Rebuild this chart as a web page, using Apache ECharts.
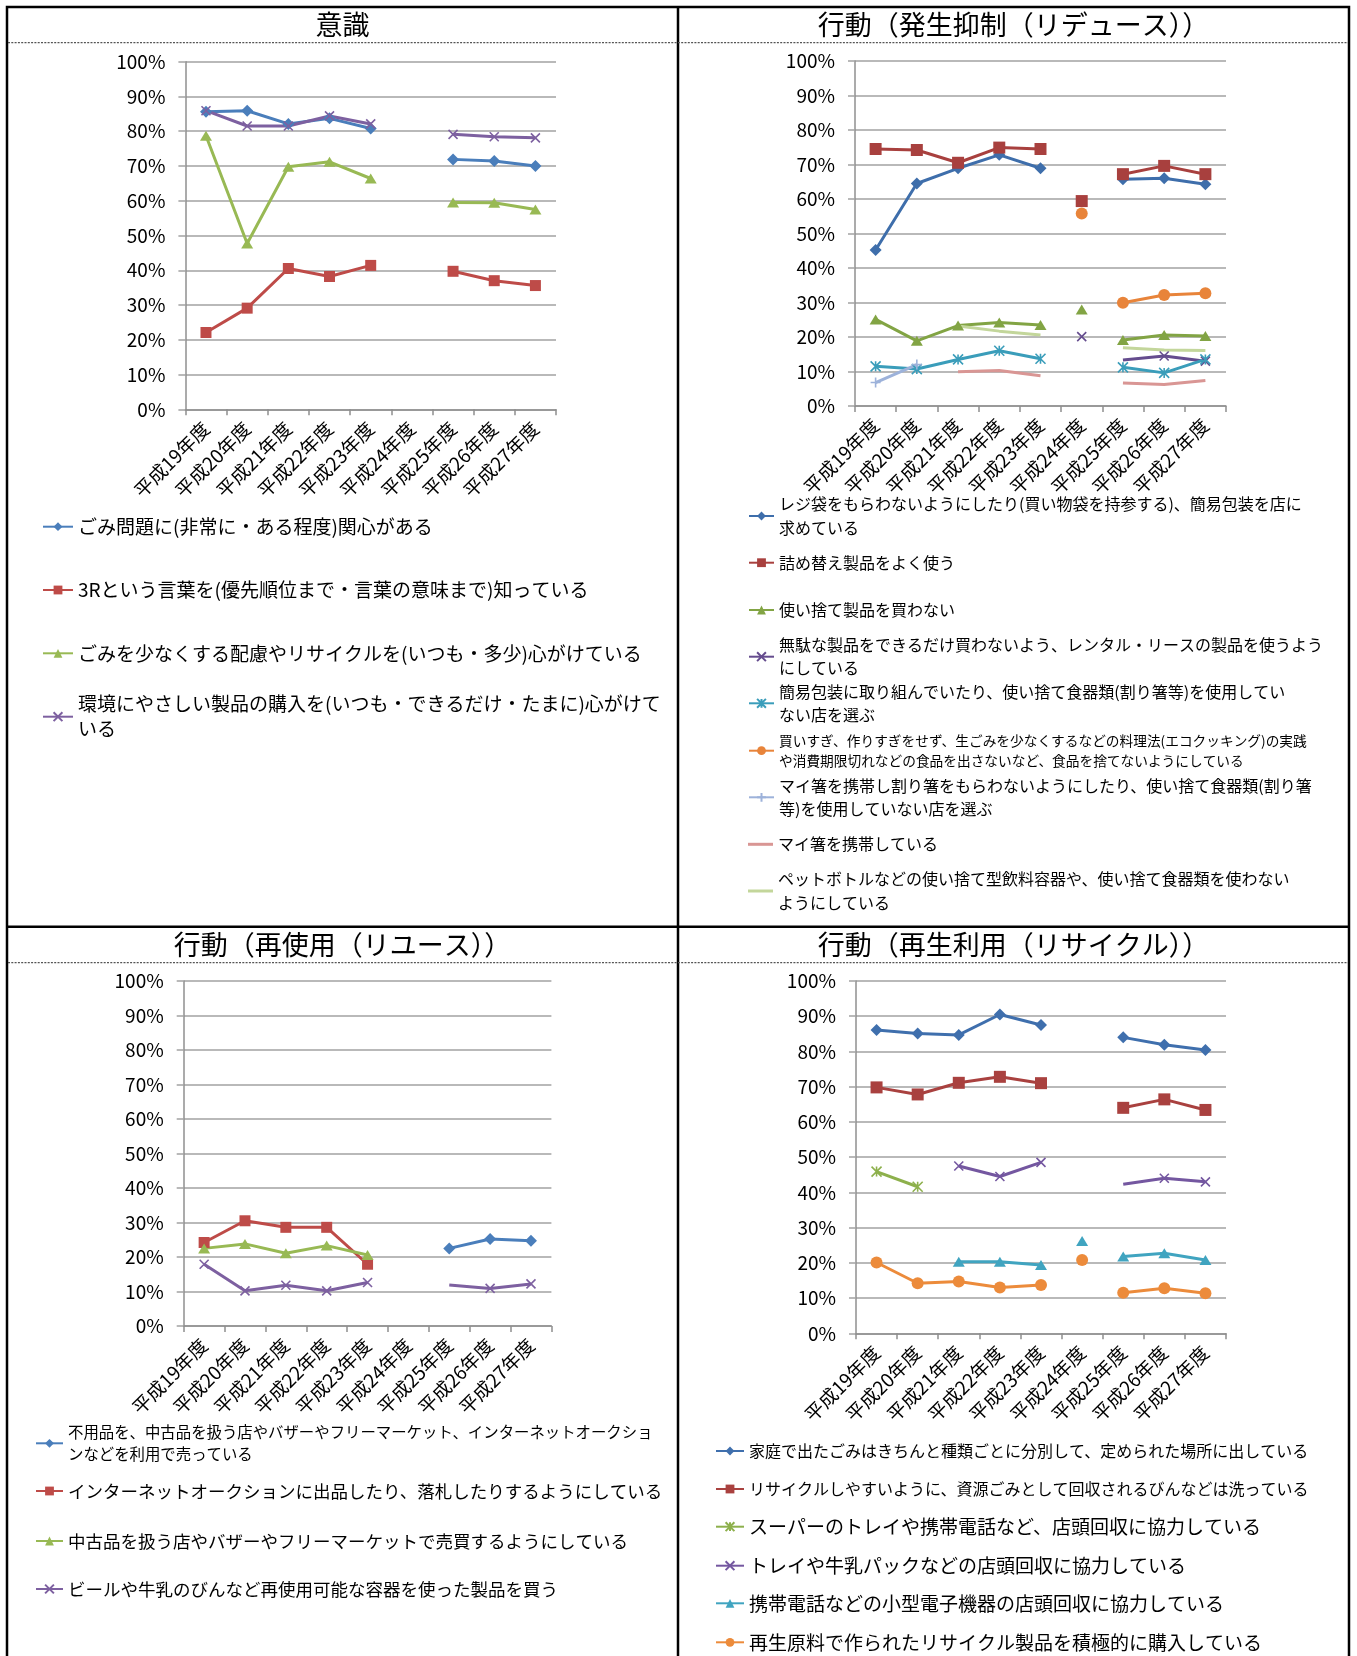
<!DOCTYPE html>
<html>
<head>
<meta charset="utf-8">
<script src="https://cdn.jsdelivr.net/npm/echarts@6/dist/echarts.min.js"></script>
<style>
  html, body { margin: 0; padding: 0; background: #fff; }
  #chart { width: 1357px; height: 1656px; }
</style>
</head>
<body>
<div id="chart"></div>
<script>
// ---- Survey years ----
const years = ['平成19年度', '平成20年度', '平成21年度', '平成22年度', '平成23年度',
               '平成24年度', '平成25年度', '平成26年度', '平成27年度'];
// 平成24年度 was surveyed separately, so its points stand alone (never joined by lines)
const standaloneYear = 5;
// y axis: 0% - 100%, step 10
const yMin = 0, yMax = 100, yStep = 10;

// ---- 意識 ----
const awareLabels = [
  'ごみ問題に(非常に・ある程度)関心がある',
  '3Rという言葉を(優先順位まで・言葉の意味まで)知っている',
  'ごみを少なくする配慮やリサイクルを(いつも・多少)心がけている',
  '環境にやさしい製品の購入を(いつも・できるだけ・たまに)心がけて\nいる'
];
const awareConcern = [85.6, 85.9, 82.1, 83.7, 80.8, null, 71.9, 71.4, 70.0];
const aware3R      = [22.1, 29.1, 40.5, 38.2, 41.4, null, 39.7, 37.0, 35.6];
const awareReduce  = [78.7, 47.7, 69.8, 71.2, 66.4, null, 59.5, 59.4, 57.5];
const awareGreen   = [85.9, 81.5, 81.5, 84.4, 82.1, null, 79.1, 78.4, 78.1];

// ---- 行動（発生抑制（リデュース）） ----
const reduceLabels = [
  'レジ袋をもらわないようにしたり(買い物袋を持参する)、簡易包装を店に\n求めている',
  '詰め替え製品をよく使う',
  '使い捨て製品を買わない',
  '無駄な製品をできるだけ買わないよう、レンタル・リースの製品を使うよう\nにしている',
  '簡易包装に取り組んでいたり、使い捨て食器類(割り箸等)を使用してい\nない店を選ぶ',
  '買いすぎ、作りすぎをせず、生ごみを少なくするなどの料理法(エコクッキング)の実践\nや消費期限切れなどの食品を出さないなど、食品を捨てないようにしている',
  'マイ箸を携帯し割り箸をもらわないようにしたり、使い捨て食器類(割り箸\n等)を使用していない店を選ぶ',
  'マイ箸を携帯している',
  'ペットボトルなどの使い捨て型飲料容器や、使い捨て食器類を使わない\nようにしている'
];
const reduceBag       = [45.2, 64.5, 68.9, 72.8, 68.9, null, 65.7, 66.0, 64.3];
const reduceRefill    = [74.5, 74.2, 70.5, 74.9, 74.5, 59.4, 67.2, 69.6, 67.2];
const reduceNoDispose = [25.1, 18.9, 23.3, 24.2, 23.5, 28.0, 19.1, 20.6, 20.3];
const reduceRental    = [null, null, null, null, null, 20.1, 13.3, 14.5, 13.0];
const reduceShopPack  = [11.5, 10.7, 13.5, 16.0, 13.7, null, 11.2, 9.6, 13.5];
const reduceFoodWaste = [null, null, null, null, null, 55.8, 29.9, 32.2, 32.7];
const reduceMyHashiShop = [6.8, 12.0, null, null, null, null, null, null, null];
const reduceMyHashi   = [null, null, 9.9, 10.3, 8.8, null, 6.7, 6.2, 7.4];
const reducePetBottle = [null, null, 23.2, 21.7, 20.6, null, 16.9, 16.2, 16.1];

// ---- 行動（再使用（リユース）） ----
const reuseLabels = [
  '不用品を、中古品を扱う店やバザーやフリーマーケット、インターネットオークショ\nンなどを利用で売っている',
  'インターネットオークションに出品したり、落札したりするようにしている',
  '中古品を扱う店やバザーやフリーマーケットで売買するようにしている',
  'ビールや牛乳のびんなど再使用可能な容器を使った製品を買う'
];
const reuseSell       = [null, null, null, null, null, null, 22.5, 25.2, 24.7];
const reuseAuction    = [24.2, 30.5, 28.6, 28.6, 17.9, null, null, null, null];
const reuseSecondhand = [22.5, 23.8, 21.1, 23.3, 20.6, null, null, null, null];
const reuseBottle     = [17.9, 10.2, 11.8, 10.2, 12.6, null, 11.9, 10.9, 12.2];

// ---- 行動（再生利用（リサイクル）） ----
const recycleLabels = [
  '家庭で出たごみはきちんと種類ごとに分別して、定められた場所に出している',
  'リサイクルしやすいように、資源ごみとして回収されるびんなどは洗っている',
  'スーパーのトレイや携帯電話など、店頭回収に協力している',
  'トレイや牛乳パックなどの店頭回収に協力している',
  '携帯電話などの小型電子機器の店頭回収に協力している',
  '再生原料で作られたリサイクル製品を積極的に購入している'
];
const recycleSort      = [86.1, 85.1, 84.7, 90.5, 87.5, null, 84.0, 81.9, 80.4];
const recycleWash      = [69.8, 67.8, 71.1, 72.8, 71.0, null, 64.0, 66.4, 63.4];
const recycleSuperTray = [45.9, 41.6, null, null, null, null, null, null, null];
const recycleTrayPack  = [null, null, 47.5, 44.5, 48.5, null, 42.3, 44.0, 43.0];
const recyclePhone     = [null, null, 20.3, 20.3, 19.4, 26.2, 21.8, 22.7, 20.8];
const recycleBuy       = [20.1, 14.2, 14.7, 13.0, 13.7, 20.8, 11.5, 12.8, 11.4];

// ---- styling ----
const FONT = '"Noto Sans CJK JP", "Noto Sans", sans-serif';
const GRID_GRAY = '#a2a2a2';
const AXIS_GRAY = '#8f8f8f';
const STROKE_SYMBOLS = {
  x: 'path://M0,0L10,10M10,0L0,10',
  star: 'path://M0,0L10,10M10,0L0,10M5,0L5,10',
  plus: 'path://M5,0L5,10M0,5L10,5'
};

const panels = [
  {
    title: '意識', cx: 342.5, ty: 25,
    grid: { left: 185.4, top: 61.7, width: 370.6, height: 347.6 },
    legendLeft: 42, iconW: 30,
    items: [
      { label: awareLabels[0], data: awareConcern, color: '#4A7EBB', symbol: 'diamond', size: 12, y: 526.7, font: 19, lh: 25 },
      { label: awareLabels[1], data: aware3R, color: '#BE4B48', symbol: 'rect', size: 11, y: 590, font: 19, lh: 25 },
      { label: awareLabels[2], data: awareReduce, color: '#98B954', symbol: 'triangle', size: [12, 10], y: 653.3, font: 19, lh: 25 },
      { label: awareLabels[3], data: awareGreen, color: '#7D60A0', symbol: 'x', size: 9, y: 716.7, font: 19, lh: 25 }
    ]
  },
  {
    title: '行動（発生抑制（リデュース））', cx: 1013.5, ty: 25,
    grid: { left: 855, top: 61, width: 371, height: 345 },
    legendLeft: 748, iconW: 25,
    items: [
      { label: reduceLabels[0], data: reduceBag, color: '#3E6EAB', symbol: 'diamond', size: 12, y: 516, font: 16, lh: 23.4 },
      { label: reduceLabels[1], data: reduceRefill, color: '#A8403E', symbol: 'rect', size: 12, y: 562.7, font: 16, lh: 23.4 },
      { label: reduceLabels[2], data: reduceNoDispose, color: '#82A444', symbol: 'triangle', size: [12, 10], y: 610, font: 16, lh: 23.4 },
      { label: reduceLabels[3], data: reduceRental, color: '#654C8E', symbol: 'x', size: 9, y: 656.7, font: 16, lh: 23.4, plain: [6] },
      { label: reduceLabels[4], data: reduceShopPack, color: '#3A9DBA', symbol: 'star', size: 10, y: 703.3, font: 16, lh: 23.4 },
      { label: reduceLabels[5], data: reduceFoodWaste, color: '#E8843A', symbol: 'circle', size: 12, y: 750.7, font: 13.7, lh: 19.3 },
      { label: reduceLabels[6], data: reduceMyHashiShop, color: '#9DB2DA', symbol: 'plus', size: 10, y: 797.3, font: 16, lh: 23.4 },
      { label: reduceLabels[7], data: reduceMyHashi, color: '#D99694', symbol: 'none', size: 0, y: 844.3, font: 16, lh: 23.4 },
      { label: reduceLabels[8], data: reducePetBottle, color: '#C3D69B', symbol: 'none', size: 0, y: 891, font: 16, lh: 23.4 }
    ]
  },
  {
    title: '行動（再使用（リユース））', cx: 342.5, ty: 945,
    grid: { left: 183.7, top: 981, width: 367.7, height: 345 },
    legendLeft: 35, iconW: 27,
    items: [
      { label: reuseLabels[0], data: reuseSell, color: '#4A7EBB', symbol: 'diamond', size: 12, y: 1443.3, font: 15.4, lh: 21.7 },
      { label: reuseLabels[1], data: reuseAuction, color: '#BE4B48', symbol: 'rect', size: 11, y: 1491, font: 17.5, lh: 24 },
      { label: reuseLabels[2], data: reuseSecondhand, color: '#98B954', symbol: 'triangle', size: [12, 10], y: 1541, font: 17.5, lh: 24 },
      { label: reuseLabels[3], data: reuseBottle, color: '#7D60A0', symbol: 'x', size: 9, y: 1589, font: 17.5, lh: 24, plain: [6] }
    ]
  },
  {
    title: '行動（再生利用（リサイクル））', cx: 1013.5, ty: 945,
    grid: { left: 856, top: 981, width: 370, height: 352.3 },
    legendLeft: 715, iconW: 28,
    items: [
      { label: recycleLabels[0], data: recycleSort, color: '#3F6FAD', symbol: 'diamond', size: 12, y: 1451, font: 16, lh: 24 },
      { label: recycleLabels[1], data: recycleWash, color: '#A9413F', symbol: 'rect', size: 12, y: 1489, font: 16, lh: 24 },
      { label: recycleLabels[2], data: recycleSuperTray, color: '#8DB04C', symbol: 'star', size: 10, y: 1526.7, font: 19, lh: 24 },
      { label: recycleLabels[3], data: recycleTrayPack, color: '#7457A0', symbol: 'x', size: 9, y: 1565.7, font: 19, lh: 24, plain: [6] },
      { label: recycleLabels[4], data: recyclePhone, color: '#40A4C0', symbol: 'triangle', size: [12, 10], y: 1603.3, font: 19, lh: 24 },
      { label: recycleLabels[5], data: recycleBuy, color: '#EC8B3B', symbol: 'circle', size: 12, y: 1642.3, font: 19, lh: 24 }
    ]
  }
];

function seriesName(label) { return label.replace('\n', ''); }

// One line series per run of values; the standalone year is drawn as its own marker only.
function buildSeries(item, idx) {
  const strokeSym = STROKE_SYMBOLS[item.symbol];
  const plain = item.plain || [];
  const name = seriesName(item.label);
  const base = {
    type: 'line',
    name: name,
    xAxisIndex: idx, yAxisIndex: idx,
    symbol: strokeSym || item.symbol,
    symbolSize: item.size,
    showSymbol: item.symbol !== 'none',
    showAllSymbol: true,
    connectNulls: false,
    clip: false,
    color: item.color,
    lineStyle: { width: 3, color: item.color },
    itemStyle: strokeSym
      ? { color: item.color, borderColor: item.color, borderWidth: 1.6 }
      : { color: item.color, borderWidth: 0 },
    emphasis: { disabled: true },
    animation: false
  };
  const mainData = item.data.map((v, i) => {
    if (i === standaloneYear) return null;
    return (plain.includes(i) && v != null) ? { value: v, symbol: 'none' } : v;
  });
  const out = [Object.assign({}, base, { data: mainData })];
  if (item.data[standaloneYear] != null) {
    const single = item.data.map((v, i) => (i === standaloneYear ? v : null));
    out.push(Object.assign({}, base, { data: single }));
  }
  return out;
}

function buildLegend(item, panel) {
  const lines = item.label.split('\n').length;
  const pad = (lines - 1) * item.lh;
  const top = item.y - (pad + lines * item.lh) / 2;
  const name = seriesName(item.label);
  const lineOnly = item.symbol === 'none';
  return {
    data: [lineOnly ? { name: name, icon: 'rect' } : name],
    left: panel.legendLeft, top: top,
    orient: 'horizontal', padding: 0, itemGap: 0,
    itemWidth: panel.iconW, itemHeight: lineOnly ? 3 : 11,
    selectedMode: false,
    formatter: () => item.label,
    textStyle: { fontSize: item.font, lineHeight: item.lh, color: '#000', fontFamily: FONT, padding: [pad, 0, 0, 0] }
  };
}

const grids = [], xAxes = [], yAxes = [], series = [], legends = [], graphics = [];

panels.forEach((p, idx) => {
  grids.push(Object.assign({ containLabel: false }, p.grid));
  xAxes.push({
    type: 'category', gridIndex: idx, data: years, boundaryGap: true,
    axisLine: { show: true, lineStyle: { color: AXIS_GRAY, width: 1.5 } },
    axisTick: { show: true, alignWithLabel: false, length: 6, lineStyle: { color: AXIS_GRAY, width: 1.5 } },
    axisLabel: { interval: 0, rotate: 45, margin: 16, fontSize: 19, color: '#000', fontFamily: FONT },
    splitLine: { show: false }
  });
  yAxes.push({
    type: 'value', gridIndex: idx, min: yMin, max: yMax, interval: yStep,
    axisLine: { show: true, lineStyle: { color: AXIS_GRAY, width: 1.5 } },
    axisTick: { show: true, length: 7, lineStyle: { color: GRID_GRAY, width: 1.5 } },
    splitLine: { show: true, lineStyle: { color: GRID_GRAY, width: 1.5 } },
    axisLabel: { formatter: '{value}%', margin: 20, fontSize: 19, color: '#000', fontFamily: FONT }
  });
  p.items.forEach(item => {
    buildSeries(item, idx).forEach(s => series.push(s));
    legends.push(buildLegend(item, p));
  });
  graphics.push({
    type: 'text', x: p.cx, y: p.ty, silent: true,
    style: { text: p.title, fontSize: 27, fontFamily: FONT, fill: '#000', align: 'center', verticalAlign: 'middle' }
  });
});

// panel frame, dividers and dotted title rules
graphics.push(
  { type: 'rect', silent: true, shape: { x: 7, y: 7, width: 1342, height: 1700 },
    style: { fill: 'none', stroke: '#000', lineWidth: 2.5 } },
  { type: 'line', silent: true, shape: { x1: 678, y1: 7, x2: 678, y2: 1660 },
    style: { stroke: '#000', lineWidth: 2.5 } },
  { type: 'line', silent: true, shape: { x1: 7, y1: 926.7, x2: 1349, y2: 926.7 },
    style: { stroke: '#000', lineWidth: 2.5 } },
  { type: 'line', silent: true, shape: { x1: 8, y1: 42.7, x2: 1348, y2: 42.7 },
    style: { stroke: '#555', lineWidth: 1.3, lineDash: [2, 1.3] } },
  { type: 'line', silent: true, shape: { x1: 8, y1: 962.7, x2: 1348, y2: 962.7 },
    style: { stroke: '#555', lineWidth: 1.3, lineDash: [2, 1.3] } }
);

const chart = echarts.init(document.getElementById('chart'), null, { renderer: 'canvas', width: 1357, height: 1656 });
chart.setOption({
  backgroundColor: '#fff',
  animation: false,
  textStyle: { fontFamily: FONT },
  grid: grids,
  xAxis: xAxes,
  yAxis: yAxes,
  legend: legends,
  series: series,
  graphic: { elements: graphics }
});
</script>
</body>
</html>
